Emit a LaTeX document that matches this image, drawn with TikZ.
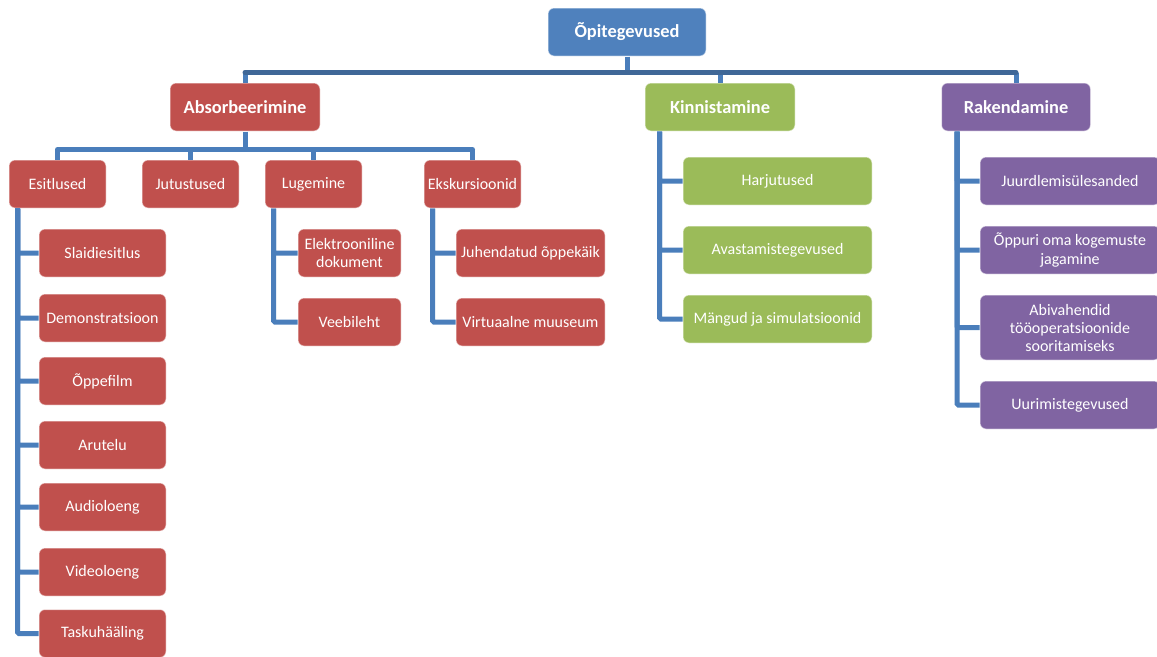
\documentclass[tikz,border=0pt]{standalone}
\usepackage{fontspec}
\setmainfont{Carlito}
\usepackage{xcolor}
\usetikzlibrary{calc}
\definecolor{rootblue}{HTML}{4F81BD}
\definecolor{absred}{HTML}{C0504D}
\definecolor{kingreen}{HTML}{9BBB59}
\definecolor{rakpurple}{HTML}{8064A2}
\definecolor{linkblue}{HTML}{4A7EBB}
\definecolor{busblue}{HTML}{3F6797}

\tikzset{
    box/.style={rectangle, rounded corners=4.5pt, draw=white, draw opacity=0.5,
        line width=0.75pt, text=white, align=center, minimum height=36pt, inner sep=2pt},
    head/.style={box, font=\fontsize{13.8}{16}\selectfont\bfseries},
    leaf/.style={box, font=\fontsize{12}{13.5}\selectfont},
    link/.style={linkblue, line width=3.75pt},
    bus/.style={busblue, line width=3.75pt},
}

\begin{document}
\begin{tikzpicture}[x=0.75pt, y=-0.75pt]
    \useasboundingbox (0,0) rectangle (1157,657);

    % Top levels
    \node[head, fill=rootblue, minimum width=118.5pt] (root) at (627,32) {Õpitegevused};
    \node[head, fill=absred, minimum width=112.5pt] (absorb) at (245,107) {Absorbeerimine};
    \node[head, fill=kingreen, minimum width=112.5pt] (kinn) at (720,107) {Kinnistamine};
    \node[head, fill=rakpurple, minimum width=111.75pt] (rak) at (1016,107) {Rakendamine};

    % Top connectors
    \coordinate (topbus) at ($(root.south)+(0,16)$);
    \draw[link] (root.south) -- (topbus);
    \foreach \n in {absorb,kinn,rak} {
        \draw[link] (\n.north |- topbus) -- (\n.north);
    }
    \draw[bus, line cap=round] (absorb.north |- topbus) -- (rak.north |- topbus);

    % Absorbeerimine groups
    \foreach \name/\x/\txt in {esit/57.5/Esitlused, jut/190.5/Jutustused,
                               lug/313.5/Lugemine, eks/472.5/Ekskursioonid} {
        \node[leaf, fill=absred, minimum width=72.75pt] (\name) at (\x,184) {\txt};
    }
    \coordinate (absbus) at ($(absorb.south)+(0,18)$);
    \draw[link] (absorb.south) -- (absbus);
    \draw[link, line cap=round] (esit.north |- absbus) -- (eks.north |- absbus);
    \foreach \n in {esit,jut,lug,eks} {
        \draw[link] (\n.north |- absbus) -- (\n.north);
    }

    % Esitlused
    \foreach \name/\y/\txt in {slaid/253/Slaidiesitlus, demo/318/Demonstratsioon,
                               film/381/Õppefilm, arut/445/Arutelu, audio/507/Audioloeng,
                               video/572/Videoloeng, tasku/633.5/Taskuhääling} {
        \node[leaf, fill=absred, minimum width=95.25pt] (\name) at (102.5,\y) {\txt};
        \draw[link, rounded corners=1pt] ($(esit.south west)+(9,0)$) |- (\name.west);
    }

    % Lugemine
    \foreach \name/\y/\txt in {elek/253/{Elektrooniline\\dokument}, veeb/322/Veebileht} {
        \node[leaf, fill=absred, minimum width=77.25pt] (\name) at (349.5,\y) {\txt};
        \draw[link, rounded corners=1pt] ($(lug.south west)+(9,0)$) |- (\name.west);
    }

    % Ekskursioonid
    \foreach \name/\y/\txt in {juh/253/Juhendatud õppekäik, virt/322/Virtuaalne muuseum} {
        \node[leaf, fill=absred, minimum width=111.75pt] (\name) at (530.5,\y) {\txt};
        \draw[link, rounded corners=1pt] ($(eks.south west)+(9,0)$) |- (\name.west);
    }

    % Kinnistamine
    \foreach \name/\y/\txt in {harj/181/Harjutused, avast/250/Avastamistegevused,
                               mang/319/Mängud ja simulatsioonid} {
        \node[leaf, fill=kingreen, minimum width=141.75pt] (\name) at (777.5,\y) {\txt};
        \draw[link, rounded corners=1pt] ($(kinn.south west)+(15,0)$) |- (\name.west);
    }

    % Rakendamine
    \foreach \name/\y/\h/\txt in {juurd/181/36/Juurdlemisülesanded,
                                  oppur/250/36/{Õppuri oma kogemuste\\jagamine},
                                  abi/327.5/48.75/{Abivahendid\\tööoperatsioonide\\sooritamiseks},
                                  uurim/405/36/Uurimistegevused} {
        \node[leaf, fill=rakpurple, minimum width=135pt, minimum height=\h pt] (\name) at (1070,\y) {\txt};
        \draw[link, rounded corners=1pt] ($(rak.south west)+(16,0)$) |- (\name.west);
    }
\end{tikzpicture}
\end{document}
